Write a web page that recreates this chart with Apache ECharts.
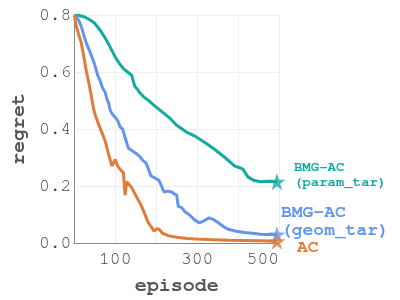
<!DOCTYPE html>
<html><head><meta charset="utf-8">
<script src="https://cdn.jsdelivr.net/npm/echarts@6/dist/echarts.min.js"></script>
<style>html,body{margin:0;padding:0;background:#fff}#c{width:400px;height:300px}</style>
</head><body><div id="c"></div>
<script>
const xTicks = [100, 300, 500];
const acEp   = [0, 5, 11, 17, 23, 29, 35, 41, 47, 53, 59, 65, 71, 77, 84, 92, 100, 106, 114, 120, 124, 128, 132, 140, 152, 163, 170, 179, 187, 195, 201, 207, 215, 231, 254, 277, 297, 330, 376, 420, 455, 495];
const acVal  = [0.8, 0.76, 0.73, 0.703, 0.655, 0.606, 0.565, 0.521, 0.47, 0.441, 0.418, 0.396, 0.375, 0.350, 0.31, 0.27, 0.293, 0.27, 0.255, 0.247, 0.168, 0.215, 0.213, 0.195, 0.162, 0.133, 0.11, 0.076, 0.058, 0.042, 0.05, 0.048, 0.035, 0.025, 0.019, 0.016, 0.014, 0.012, 0.010, 0.009, 0.008, 0.006];
const geomEp  = [0, 5, 11, 17, 23, 29, 37, 45, 51, 57, 63, 69, 75, 80, 84, 88, 94, 100, 106, 112, 118, 124, 132, 140, 150, 160, 167, 175, 181, 187, 197, 207, 213, 219, 228, 238, 244, 250, 254, 262, 270, 281, 293, 305, 317, 329, 340, 352, 364, 376, 396, 416, 435, 455, 475, 495];
const geomVal = [0.8, 0.795, 0.78, 0.76, 0.73, 0.703, 0.675, 0.646, 0.62, 0.589, 0.57, 0.544, 0.53, 0.504, 0.49, 0.464, 0.45, 0.441, 0.43, 0.407, 0.40, 0.37, 0.333, 0.325, 0.315, 0.304, 0.29, 0.281, 0.26, 0.236, 0.228, 0.219, 0.20, 0.179, 0.182, 0.179, 0.172, 0.168, 0.128, 0.125, 0.11, 0.099, 0.082, 0.071, 0.078, 0.088, 0.082, 0.071, 0.058, 0.048, 0.041, 0.037, 0.034, 0.031, 0.030, 0.030];
const paramEp  = [0, 10, 25, 37, 49, 57, 65, 75, 84, 92, 100, 110, 120, 130, 140, 148, 154, 160, 170, 183, 195, 207, 219, 231, 250, 273, 297, 320, 344, 368, 392, 402, 412, 424, 432, 440, 455, 475, 495];
const paramVal = [0.8, 0.799, 0.793, 0.784, 0.772, 0.758, 0.743, 0.72, 0.697, 0.675, 0.652, 0.63, 0.612, 0.60, 0.589, 0.549, 0.54, 0.527, 0.512, 0.498, 0.483, 0.469, 0.455, 0.441, 0.413, 0.39, 0.373, 0.352, 0.327, 0.30, 0.27, 0.265, 0.259, 0.232, 0.225, 0.219, 0.215, 0.217, 0.215];

const cParam = '#14aa9f', cGeom = '#6495ed', cAc = '#e07b39';
const mono = "FreeMono, 'Liberation Mono', monospace";
const star = 'path://M50,0 L61.8,35.4 L99,35.4 L68.8,57.3 L80.3,92.7 L50,70.8 L19.7,92.7 L31.2,57.3 L1,35.4 L38.2,35.4 Z';
function pairs(xs, ys){ return xs.map((x,i)=>[x, ys[i]]); }
function last(xs, ys){ return [[xs[xs.length-1], ys[ys.length-1]]]; }

const chart = echarts.init(document.getElementById('c'), null, {renderer:'canvas'});
function lineSeries(name, xs, ys, color, label, fs, off, lh){
  return {
    name, type:'line', data: pairs(xs, ys), showSymbol:false, symbol:'none',
    lineStyle:{color, width:3}, itemStyle:{color}, z:2,
    endLabel:{show:true, formatter: label, color, fontFamily: mono, fontWeight:'bold',
      fontSize: fs, lineHeight: lh, offset: off, align:'left'}
  };
}
chart.setOption({
  animation:false,
  grid:{left:68, right:121, top:15, bottom:51, containLabel:false},
  xAxis:{type:'value', min:0, max:500, interval:100,
    name:'episode', nameLocation:'middle', nameGap:32,
    nameTextStyle:{fontFamily:mono, fontSize:20, fontWeight:'bold', color:'#555'},
    axisLine:{show:true, lineStyle:{color:'#888'}}, axisTick:{show:false},
    splitLine:{show:true, lineStyle:{color:'#eee'}},
    axisLabel:{fontFamily:mono, fontSize:18, color:'#444', margin:7, alignMaxLabel:'right',
      formatter: v => xTicks.includes(v) ? String(v) : ''}},
  yAxis:{type:'value', min:0, max:0.8, interval:0.2,
    name:'regret', nameLocation:'middle', nameGap:46,
    nameTextStyle:{fontFamily:mono, fontSize:20, fontWeight:'bold', color:'#555'},
    axisLine:{show:true, lineStyle:{color:'#888'}}, axisTick:{show:false},
    splitLine:{show:true, lineStyle:{color:'#eee'}},
    axisLabel:{fontFamily:mono, fontSize:18, color:'#444', margin:3, formatter: v => v.toFixed(1)}},
  series:[
    lineSeries('param', paramEp, paramVal, cParam, 'BMG-AC\n(param_tar)', 14, [9,-7], 15),
    lineSeries('geom', geomEp, geomVal, cGeom, 'BMG-AC\n(geom_tar)', 18, [-4,-14], 18),
    lineSeries('ac', acEp, acVal, cAc, 'AC', 18, [12,5], 18),
    {type:'scatter', data:last(paramEp,paramVal), symbol:star, symbolSize:17, itemStyle:{color:cParam}, z:3},
    {type:'scatter', data:last(geomEp,geomVal), symbol:star, symbolSize:17, itemStyle:{color:cGeom}, z:3},
    {type:'scatter', data:last(acEp,acVal), symbol:star, symbolSize:17, itemStyle:{color:cAc}, z:3}
  ]
});
</script></body></html>
